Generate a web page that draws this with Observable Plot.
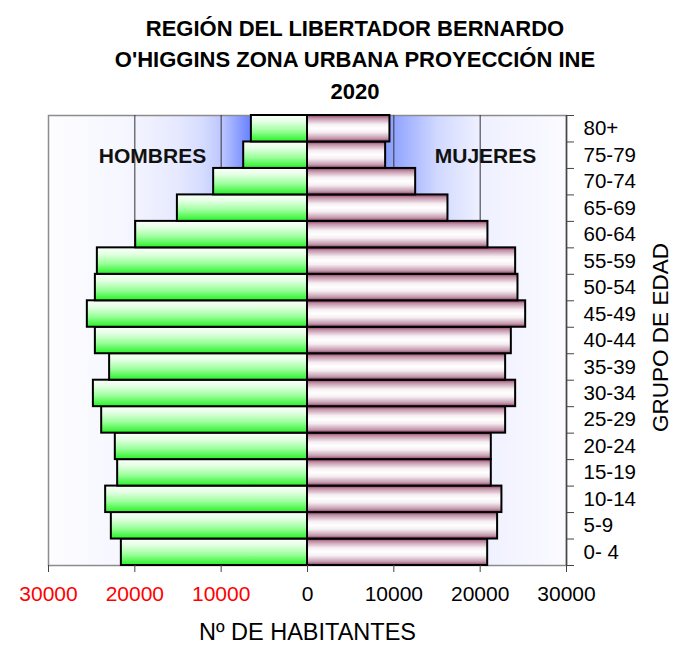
<!DOCTYPE html>
<html>
<head>
<meta charset="utf-8">
<script src="https://cdn.jsdelivr.net/npm/d3@7"></script>
<script src="https://cdn.jsdelivr.net/npm/@observablehq/plot@0.6"></script>
<style>
  html, body { margin: 0; padding: 0; background: #fff; }
  #title { height: 107px; box-sizing: border-box; padding-top: 12.6px; padding-left: 35px;
    font: bold 22px "Liberation Sans", Arial, sans-serif; line-height: 31.5px; text-align: center; color: #000; }
</style>
</head>
<body>
<div id="title">REGIÓN DEL LIBERTADOR BERNARDO<br>O'HIGGINS ZONA URBANA PROYECCIÓN INE<br>2020</div>
<div id="chart"></div>
<script>
const ages = ["0- 4","5-9","10-14","15-19","20-24","25-29","30-34","35-39","40-44","45-49","50-54","55-59","60-64","65-69","70-74","75-79","80+"];
const hombres = [21560, 22720, 23380, 21990, 22260, 23840, 24800, 22920, 24570, 25500, 24570, 24340, 19900, 15070, 10870, 7390, 6500];
const mujeres = [20870, 22020, 22520, 21290, 21290, 22950, 24110, 22950, 23610, 25270, 24380, 24110, 20900, 16270, 12530, 9050, 9550];
const xTicks = [-30000, -20000, -10000, 0, 10000, 20000, 30000];
const gridTicks = [-20000, -10000, 10000, 20000];
const sexLabels = ["HOMBRES", "MUJERES"];
const xLabel = "Nº DE HABITANTES";
const yLabel = "GRUPO DE EDAD";

const rows = ages.map((age, i) => ({age, i, hombres: hombres[i], mujeres: mujeres[i]}));
const bounds = d3.range(ages.length + 1).map(k => k - 0.5);

const font = "'Liberation Sans', Arial, sans-serif";

const chart = Plot.plot({
  width: 675,
  height: 539,
  marginTop: 8,
  marginBottom: 81,
  marginLeft: 48,
  marginRight: 109,
  style: {fontFamily: font, background: "#fff"},
  x: {domain: [-30000, 30000]},
  y: {domain: [-0.5, ages.length - 0.5]},
  marks: [
    Plot.frame({fill: "url(#bgGrad)", stroke: "#8c8c8c", strokeWidth: 1.5}),
    Plot.ruleX(gridTicks, {stroke: "#333", strokeWidth: 1}),
    Plot.rectX(rows, {y1: d => d.i - 0.5, y2: d => d.i + 0.5, x1: 0, x2: d => -d.hombres,
      fill: "url(#menGrad)", stroke: "#000", strokeWidth: 2}),
    Plot.rectX(rows, {y1: d => d.i - 0.5, y2: d => d.i + 0.5, x1: 0, x2: d => d.mujeres,
      fill: "url(#womenGrad)", stroke: "#000", strokeWidth: 2}),
    Plot.ruleX([30000], {stroke: "#444", strokeWidth: 1.5}),
    Plot.axisY({anchor: "right", ticks: bounds, tickSize: 7, tickFormat: () => "", label: null, stroke: "#444"}),
    Plot.text(rows, {y: "i", text: "age", frameAnchor: "right", dx: 17, textAnchor: "start",
      fontSize: 20.5, fill: "#000"}),
    Plot.axisX({ticks: xTicks, tickSize: 7, tickFormat: () => "", label: null, stroke: "#444"}),
    Plot.text(xTicks, {x: d => d, text: d => String(Math.abs(d)), frameAnchor: "bottom", dy: 35,
      fontSize: 21, fill: d => d < 0 ? "#ff0000" : "#000000"}),
    Plot.text([xLabel], {frameAnchor: "bottom", dy: 74, fontSize: 23.5, fill: "#000"}),
    Plot.text([yLabel], {frameAnchor: "right", dx: 94, dy: -3, rotate: -90, textAnchor: "middle",
      fontSize: 22.5, fill: "#000"}),
    Plot.text([sexLabels[0]], {frameAnchor: "top-left", dx: 104, dy: 41, textAnchor: "middle", lineAnchor: "middle",
      fontSize: 21, fontWeight: "bold", fill: "#111"}),
    Plot.text([sexLabels[1]], {frameAnchor: "top-right", dx: -81, dy: 41, textAnchor: "middle", lineAnchor: "middle",
      fontSize: 21, fontWeight: "bold", fill: "#111"})
  ]
});

const svg = d3.select(chart.tagName.toLowerCase() === "svg" ? chart : chart.querySelector("svg"));
const defs = svg.insert("defs", ":first-child");
function grad(id, horizontal, stops) {
  const g = defs.append("linearGradient").attr("id", id)
    .attr("x1", 0).attr("y1", 0).attr("x2", horizontal ? 1 : 0).attr("y2", horizontal ? 0 : 1);
  stops.forEach(([o, c]) => g.append("stop").attr("offset", o).attr("stop-color", c));
}
grad("bgGrad", true, [[0, "#fdfdff"], [0.15, "#f5f6ff"], [0.25, "#e6e9ff"], [0.3, "#d4dbff"], [0.335, "#bcc6ff"],
  [0.385, "#7088ff"], [0.5, "#5577ff"], [0.62, "#7890ff"], [0.68, "#9aacff"], [0.75, "#d0d8ff"],
  [0.83, "#eef0ff"], [1, "#fbfbff"]]);
grad("menGrad", false, [[0, "#fbfffb"], [0.25, "#e4ffe4"], [0.6, "#9cff9c"], [1, "#26f226"]]);
grad("womenGrad", false, [[0, "#8b3d63"], [0.12, "#c393a9"], [0.35, "#f6eef2"], [0.5, "#ffffff"],
  [0.65, "#f6eef2"], [0.88, "#c39aad"], [1, "#8b3d63"]]);

document.getElementById("chart").appendChild(chart);
</script>
</body>
</html>
